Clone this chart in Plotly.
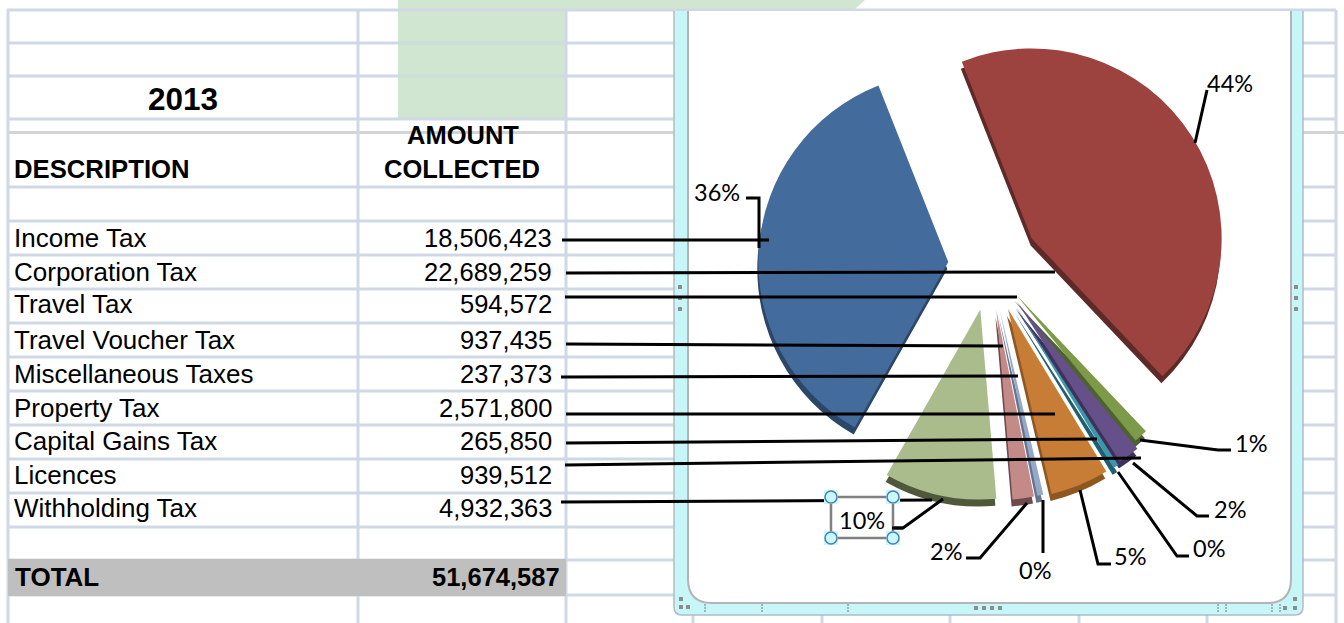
import plotly.graph_objects as go

W, H = 1344, 623
descriptions = ["Income Tax", "Corporation Tax", "Travel Tax", "Travel Voucher Tax", "Miscellaneous Taxes",
                "Property Tax", "Capital Gains Tax", "Licences", "Withholding Tax"]
amounts = [18506423, 22689259, 594572, 937435, 237373, 2571800, 265850, 939512, 4932363]
total = 51674587
pct_labels = ["36%", "44%", "1%", "2%", "0%", "5%", "0%", "2%", "10%"]
year = "2013"

face_colors = ["#436b9c", "#9c4340", "#7d9a48", "#65508a", "#3c95ac", "#c87d36", "#94a8c8", "#c48a88", "#aabb8c"]
side_colors = ["#2b4666", "#5e2a28", "#4e6230", "#3f3158", "#1f5f70", "#8f5620", "#66748c", "#6f4a4c", "#50583c"]
pulls = [0.22, 0.26, 0.20, 0.24, 0.25, 0.25, 0.24, 0.24, 0.24]

GRID = "#d0d7e5"
def px(x): return x / W
def py(y): return 1 - y / H

shapes = []
def rect(x0, y0, x1, y1, fill, layer="below"):
    shapes.append(dict(type="rect", xref="paper", yref="paper", x0=px(x0), x1=px(x1), y0=py(y0), y1=py(y1),
                       fillcolor=fill, line_width=0, layer=layer))
def poly(pts, color, width=3, layer="above", fill=None):
    d = "M" + " L".join(f"{px(a):.5f},{py(b):.5f}" for a, b in pts)
    if fill:
        d += " Z"
    shapes.append(dict(type="path", xref="paper", yref="paper", path=d, layer=layer,
                       line=dict(color=color, width=width), fillcolor=fill))

# green background blob
poly([(398, 119), (398, 0), (865, 0), (855, 9), (680, 9), (566, 11), (566, 119)], "#d0e6d0", 0, "below", "#d0e6d0")

# sheet grid
h_lines = [10, 43, 76, 119, 187, 221, 255, 289, 323, 357, 391, 425, 459, 493, 527, 560, 595]
for y in h_lines:
    rect(7, y - 1.5, 1336, y + 1.5, GRID)
rect(7, 131, 1344, 134, "#d4d4d4")
for x, y0, y1 in [(8, 10, 623), (358, 10, 623), (566, 10, 623), (1336, 10, 623)]:
    rect(x - 1.5, y0, x + 1.5, y1, GRID)
for y in (43, 76):
    rect(398, y - 1.5, 564.5, y + 1.5, "#cbdfd6")
rect(8, 559, 566, 596, "#bfbfbf")
for x in [693, 822, 950, 1079, 1207]:
    rect(x - 1.5, 612, x + 1.5, 623, GRID)

# chart window
def frame_path(x0, y0, x1, y1, r, close):
    d = (f"M{px(x0):.5f},{py(y0):.5f} L{px(x0):.5f},{py(y1 - r):.5f} "
         f"Q{px(x0):.5f},{py(y1):.5f} {px(x0 + r):.5f},{py(y1):.5f} "
         f"L{px(x1 - r):.5f},{py(y1):.5f} "
         f"Q{px(x1):.5f},{py(y1):.5f} {px(x1):.5f},{py(y1 - r):.5f} "
         f"L{px(x1):.5f},{py(y0):.5f}")
    return d + (" Z" if close else "")
def frame(x0, y0, x1, y1, r, fill, stroke, width):
    shapes.append(dict(type="path", xref="paper", yref="paper", layer="below", path=frame_path(x0, y0, x1, y1, r, True),
                       fillcolor=fill, line_width=0))
    shapes.append(dict(type="path", xref="paper", yref="paper", layer="below", path=frame_path(x0, y0, x1, y1, r, False),
                       line=dict(color=stroke, width=width)))
frame(674, 11, 1303, 615, 8, "#c6f6f8", "#b0bcc4", 1.5)
frame(688, 11, 1291, 603, 24, "#ffffff", "#b4b4b4", 2)
for x in (680, 1296):
    for y in (287, 298, 309):
        rect(x - 2, y - 2, x + 2, y + 2, "#8c8c8c")
for x in (976, 984, 992, 1000):
    rect(x - 2, 606, x + 2, 610, "#8c8c8c")
for x, y in [(1285, 608), (1295, 608), (1295, 599), (681, 607), (688, 607), (681, 599)]:
    rect(x - 2, y - 2, x + 2, y + 2, "#8c8c8c")
for x in (705, 762, 848, 1218, 1226, 1272, 1280):
    for y in (605, 608, 611):
        rect(x - .5, y - .7, x + .5, y + .7, "#505050")

# pie geometry
cx, cy, half = 990, 265, 190 * (1 + max(pulls))
def pie(colors, dx, dy):
    return go.Pie(values=amounts, labels=descriptions, sort=False, direction="clockwise", rotation=-150.5,
                  pull=pulls, textinfo="none", showlegend=False, hole=0,
                  marker=dict(colors=colors, line=dict(width=0)),
                  domain=dict(x=[px(cx + dx - half), px(cx + dx + half)],
                              y=[py(cy + dy + half), py(cy + dy - half)]))
fig = go.Figure([pie(side_colors, -1, 7), pie(face_colors, 0, 0)])

# leaders from table rows to slices
row_leaders = [[(562, 240), (769, 240)], [(566, 273), (1055, 272)], [(565, 297), (1017, 297)],
               [(566, 344), (1003, 346)], [(561, 377), (1018, 376)], [(566, 414), (1055, 414)],
               [(566, 443), (1097, 439)], [(565, 465), (1141, 458)], [(561, 502), (932, 500)]]
for pts in row_leaders:
    poly(pts, "#000000", 3)
label_leaders = [[(746, 198), (759, 198), (759, 248)], [(1207, 90), (1195, 143)],
                 [(1140, 440), (1218, 450), (1231, 450)], [(1133, 463), (1197, 516), (1209, 516)],
                 [(1118, 472), (1177, 556), (1189, 556)], [(1080, 490), (1098, 564), (1111, 564)],
                 [(1043, 500), (1043, 553)], [(1027, 503), (980, 558), (966, 558)],
                 [(943, 499), (903, 528), (892, 528)]]
for pts in label_leaders:
    poly(pts, "#000000", 3)

# selected label box
poly([(831, 497), (893, 497), (893, 538), (831, 538)], "#808080", 2.5, "above", "#ffffff")
poly([(892, 528), (903, 528)], "#000000", 3)
for x, y in [(831, 497), (893, 497), (831, 538), (893, 538)]:
    rect(x - 7, y - 7, x + 7, y + 7, "#c8f8fc", "above")
    shapes.append(dict(type="circle", xref="paper", yref="paper", x0=px(x - 6), x1=px(x + 6), y0=py(y + 6), y1=py(y - 6),
                       fillcolor="#c8f8fc", line=dict(color="#4a7eb0", width=1.5), layer="above"))

ann = []
def text(x, y, s, size, anchor="left", bold=False, family="Liberation Sans"):
    ann.append(dict(xref="paper", yref="paper", x=px(x), y=py(y), text=f"<b>{s}</b>" if bold else s, showarrow=False,
                    xanchor=anchor, yanchor="middle", borderpad=0,
                    font=dict(family=family, size=size, color="#000000")))

text(183, 99, year, 31.5, "center", True)
text(13, 169, "DESCRIPTION", 25.7, "left", True)
text(463, 135, "AMOUNT", 25.5, "center", True)
text(462, 169, "COLLECTED", 25.5, "center", True)
row_y = [238, 272, 304, 340, 374, 408, 441, 475, 508]
for yy, d, a in zip(row_y, descriptions, amounts):
    text(13, yy, d, 26)
    text(552.5, yy, f"{a:,}", 25.5, "right")
text(13.5, 577, "TOTAL", 26, "left", True)
text(561, 577, f"{total:,}", 25.5, "right", True)

label_xy = [(717, 192), (1230, 83), (1251, 443), (1230, 509), (1209, 548), (1130, 556), (1035, 570), (946, 551), (862, 520)]
for (lx, ly), lab in zip(label_xy, pct_labels):
    text(lx, ly, lab, 23.5, "center", False, "Lato")

fig.update_layout(width=W, height=H, margin=dict(l=0, r=0, t=0, b=0), paper_bgcolor="#ffffff",
                  shapes=shapes, annotations=ann)
fig.write_html("out.html", config=dict(displayModeBar=False),
               post_script="document.body.style.margin='0';document.body.style.overflow='hidden';")
